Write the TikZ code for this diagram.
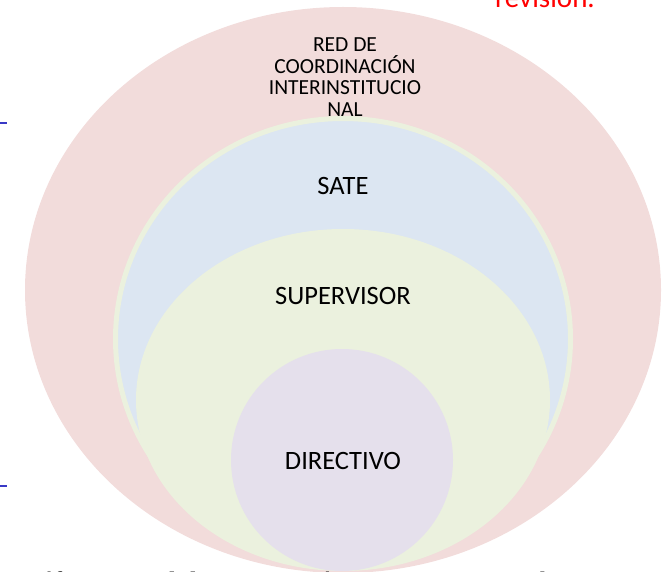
\documentclass[tikz,border=0pt]{standalone}
\usepackage{fontspec}
\setmainfont{Carlito}
\newfontfamily\capfont{Liberation Serif}
\usetikzlibrary{shapes.geometric}
\definecolor{pinkc}{HTML}{F2DCDB}
\definecolor{bluec}{HTML}{DCE6F2}
\definecolor{greenc}{HTML}{EBF1DE}
\definecolor{lilac}{HTML}{E5E0EC}
\begin{document}
\begin{tikzpicture}[
    x=1pt, y=-1pt,
    ring/.style={ellipse, draw=none, inner sep=0pt},
    lvl/.style={font=\fontsize{26.5}{28}\selectfont, text=black},
]
\useasboundingbox (0,0) rectangle (663,572);
\begin{scope}
\clip (0,0) rectangle (663,572);

\node[ring, fill=pinkc, minimum width=636pt, minimum height=566pt] (red) at (343,290) {};
\node[ring, fill=bluec, draw=greenc, line width=5pt, minimum width=455pt, minimum height=441pt] (sate) at (343,339) {};
\node[ring, fill=greenc, minimum width=414pt, minimum height=342pt] (sup) at (343,400) {};
\node[ring, fill=lilac, minimum width=222pt, minimum height=222pt] (dir) at (342,460) {};

\node[align=center, font=\fontsize{21.5}{21.5}\selectfont] (redtxt) at (345,77)
    {RED DE\\COORDINACIÓN\\INTERINSTITUCIO\\NAL};
\node[lvl] (satetxt) at (343,186) {SATE};
\node[lvl] (suptxt) at (343,296) {SUPERVISOR};
\node[lvl] (dirtxt) at (343,461) {DIRECTIVO};

% bits of the page around the picture
\node[anchor=base west, inner sep=0pt, text=red, font=\fontsize{29}{30}\selectfont] (rev) at (495,8) {revisión.};
\node[anchor=base west, inner sep=0pt, font=\capfont\itshape\fontsize{28}{30}\selectfont] (cap) at (6,591)
    {Gráfica 1. Red de Interacción Interinstitucional};
\draw[color=blue!55!gray, line width=1.5pt] (0,123) -- (7,123);
\draw[color=blue!55!gray, line width=1.5pt] (0,486) -- (7,486);
\end{scope}
\end{tikzpicture}
\end{document}
